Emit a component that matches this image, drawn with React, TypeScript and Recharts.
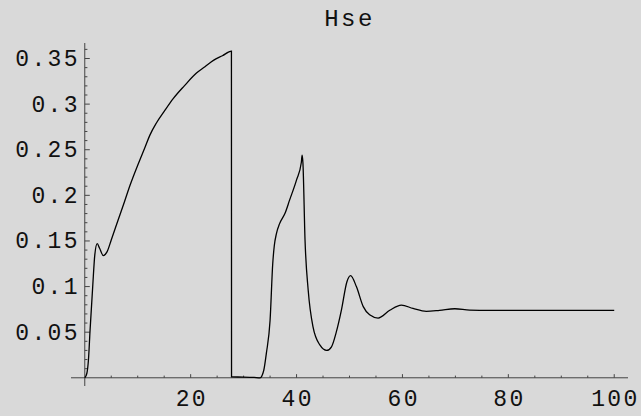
import { Line, LineChart, ReferenceLine, XAxis, YAxis } from "recharts";

// sampled off the plot
const xs = [
  0, 0.4, 0.7, 1.0, 1.5, 1.9, 2.35, 2.8, 3.5, 4.2, 5.0, 6.3, 7.5, 8.55, 10.0,
  11.4, 12.3, 13.5, 15.0, 16.7, 18.8, 21.1, 22.7, 24.3, 26.0, 27.7, 27.72, 30,
  32, 33.1, 33.8, 34.3, 35.0, 35.5, 35.8, 36.2, 36.8, 37.8, 38.7, 40.0, 40.9,
  41.05, 41.2, 41.6, 42.2, 43.1, 44.4, 45.7, 46.6, 47.5, 48.5, 49.5, 50.2,
  51.3, 52.6, 53.8, 55.4, 57.6, 59.8, 62, 64.5, 67, 69.9, 72.7, 76.5, 85, 100,
];
const hse = [
  0, 0.005, 0.02, 0.052, 0.1, 0.135, 0.147, 0.142, 0.134, 0.138, 0.151, 0.173,
  0.193, 0.211, 0.233, 0.253, 0.266, 0.279, 0.292, 0.306, 0.32, 0.334, 0.341,
  0.348, 0.353, 0.358, 0.001, 0.0008, 0.0004, 0, 0.008, 0.027, 0.063, 0.125,
  0.145, 0.158, 0.169, 0.18, 0.195, 0.217, 0.236, 0.244, 0.236, 0.151, 0.096,
  0.056, 0.036, 0.03, 0.034, 0.05, 0.075, 0.105, 0.112, 0.1, 0.078, 0.069,
  0.0655, 0.074, 0.0797, 0.076, 0.0728, 0.0739, 0.0757, 0.0742, 0.0739, 0.074,
  0.0739,
];

const xTicks = [20, 40, 60, 80, 100];
const xMinor = [5, 10, 15, 25, 30, 35, 45, 50, 55, 65, 70, 75, 85, 90, 95];
const yTicks = [0.05, 0.1, 0.15, 0.2, 0.25, 0.3, 0.35];
const yMinor = [
  0.01, 0.02, 0.03, 0.04, 0.06, 0.07, 0.08, 0.09, 0.11, 0.12, 0.13, 0.14,
  0.16, 0.17, 0.18, 0.19, 0.21, 0.22, 0.23, 0.24, 0.26, 0.27, 0.28, 0.29,
  0.31, 0.32, 0.33, 0.34, 0.36,
];

const data = xs.map((x, i) => ({ x, hse: hse[i] }));

const font = "'Liberation Mono', monospace";
const axisColor = "#444";

const XTick = ({ x, y, payload }: any) => (
  <text
    x={x + 1.2}
    y={y + 20}
    textAnchor="middle"
    fontFamily={font}
    fontSize={23}
    letterSpacing={2.4}
    fill="#111"
  >
    {payload.value}
  </text>
);

const YTick = ({ x, y, payload }: any) => (
  <text
    x={x + 9}
    y={y + 7.5}
    textAnchor="end"
    fontFamily={font}
    fontSize={23}
    letterSpacing={2.4}
    fill="#111"
  >
    {payload.value}
  </text>
);

export default function App() {
  return (
    <div
      style={{
        position: "absolute",
        left: 0,
        top: 0,
        width: 641,
        height: 416,
        background: "#d9d9d9",
      }}
    >
      <div
        style={{
          position: "absolute",
          left: 71,
          width: 557,
          top: 8.3,
          textAlign: "center",
          fontFamily: font,
          fontSize: 24,
          lineHeight: "24px",
          letterSpacing: 2.5,
          color: "#111",
        }}
      >
        Hse
      </div>
      <LineChart
        width={641}
        height={416}
        data={data}
        margin={{ top: 43, right: 13, bottom: 0, left: 0 }}
      >
        <XAxis
          dataKey="x"
          type="number"
          domain={[-2.6, 102.6]}
          ticks={xTicks}
          allowDataOverflow
          axisLine={false}
          tickLine={false}
          tickSize={0}
          tickMargin={0}
          height={30}
          tick={<XTick />}
        />
        <YAxis
          type="number"
          domain={[-0.009, 0.367]}
          ticks={yTicks}
          allowDataOverflow
          axisLine={false}
          tickLine={false}
          tickSize={0}
          tickMargin={0}
          width={71}
          tick={<YTick />}
        />
        <ReferenceLine y={0} stroke={axisColor} strokeWidth={1} />
        <ReferenceLine x={0} stroke={axisColor} strokeWidth={1} />
        {xTicks.map((t) => (
          <ReferenceLine
            key={"xM" + t}
            segment={[
              { x: t, y: 0 },
              { x: t, y: 0.004 },
            ]}
            stroke={axisColor}
          />
        ))}
        {xMinor.map((t) => (
          <ReferenceLine
            key={"xm" + t}
            segment={[
              { x: t, y: 0 },
              { x: t, y: 0.0024 },
            ]}
            stroke={axisColor}
          />
        ))}
        {yTicks.map((t) => (
          <ReferenceLine
            key={"yM" + t}
            segment={[
              { x: 0, y: t },
              { x: 0.95, y: t },
            ]}
            stroke={axisColor}
          />
        ))}
        {yMinor.map((t) => (
          <ReferenceLine
            key={"ym" + t}
            segment={[
              { x: 0, y: t },
              { x: 0.5, y: t },
            ]}
            stroke={axisColor}
          />
        ))}
        <Line
          dataKey="hse"
          type="monotone"
          stroke="#000"
          strokeWidth={1.3}
          dot={false}
          isAnimationActive={false}
        />
      </LineChart>
    </div>
  );
}
